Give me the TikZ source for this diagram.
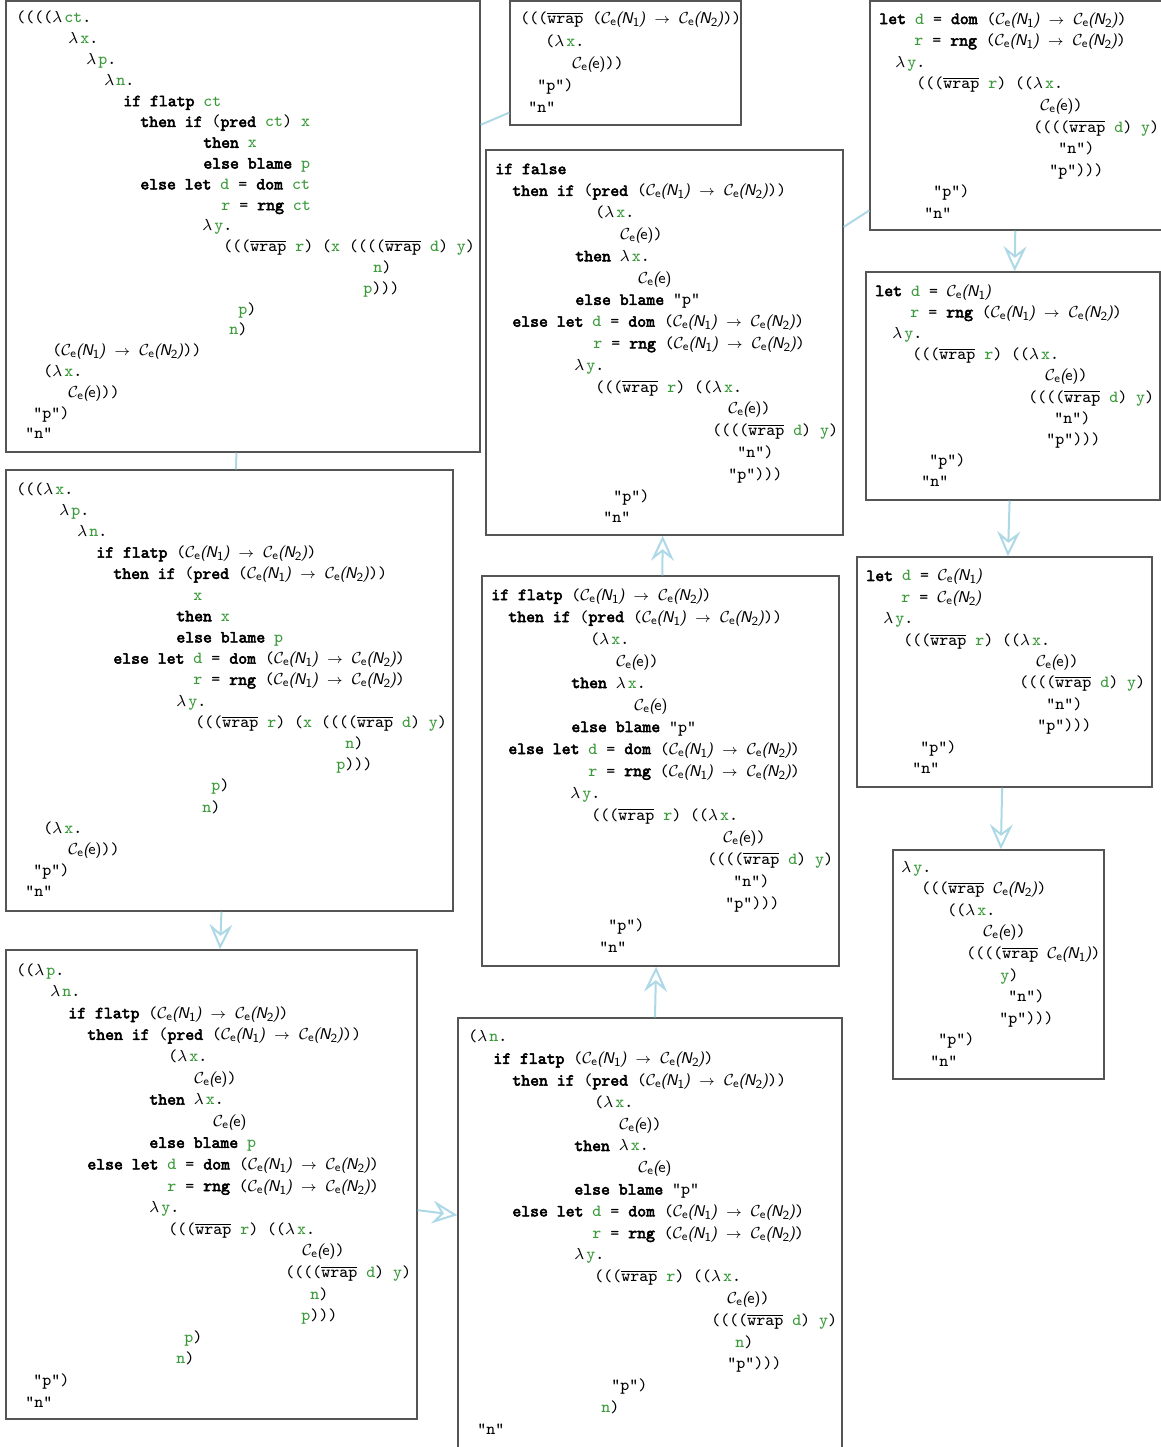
\documentclass[tikz,border=0pt]{standalone}
\definecolor{edge}{HTML}{ADD8E6}
\definecolor{rim}{HTML}{555555}
\definecolor{var}{HTML}{3A9A3A}
\usepackage{tikz}
\usetikzlibrary{arrows.meta, fit}
\newlength\pxu
\setlength\pxu{0.5pt}
\font\kwfont="[lmmono10-regular.otf]:embolden=3.2" at 8.46pt
\newcommand\ind[1]{\hspace*{#1\pxu}\strut}
\newcommand\vr[1]{\textcolor{var}{#1}}
\newcommand\kw[1]{{\kwfont #1}}
\newcommand\lam[1]{\makebox[6pt][l]{$\lambda$}\vr{#1}}
\newcommand\wrap{$\overline{\hbox{wrap}}$}
\newcommand\ce[1]{$\mathcal{C}_{\mathsf{e}}$\kern-0.5pt{\fontsize{7.8pt}{9pt}\sffamily\itshape(\kern-0.6pt#1\kern-0.3pt)}}
\newcommand\cn[1]{\ce{N\raisebox{-1.5pt}{\fontsize{6.2pt}{7pt}\selectfont\upshape #1}}}
\newcommand\cee{\ce{\upshape e}}
\newcommand\arr{\cn{1} {\fontsize{6.8pt}{8pt}\selectfont$\to$} \cn{2}}
\tikzset{
  term/.style={draw=rim, line width=0.75pt, fill=white, inner sep=0pt},
  code/.style={font={\fontsize{8.46pt}{#1pt}\ttfamily\frenchspacing\lineskiplimit=-\maxdimen},
               align=left, inner sep=0pt, anchor=north west},
  flow/.style={-{Stealth[open, length=12.5pt, width=11.5pt, inset=4.5pt]}, line width=1pt, color=edge},
  link/.style={line width=1pt, color=edge},
}
\begin{document}
\begin{tikzpicture}[x=0.5pt, y=-0.5pt]
\useasboundingbox (0,0) rectangle (1161,1447);
\clip (0,0) rectangle (1161,1447);
% frames
\node[term, fit={(6,1) (480,452)}] (a) {};
\node[term, fit={(510,1) (741,125)}] (b) {};
\node[term, fit={(870,1) (1164,230)}] (c) {};
\node[term, fit={(486,150) (843,535)}] (d) {};
\node[term, fit={(6,470) (453,911)}] (e) {};
\node[term, fit={(866,272) (1160,500)}] (f) {};
\node[term, fit={(482,576) (839,966)}] (g) {};
\node[term, fit={(857,557) (1152,787)}] (h) {};
\node[term, fit={(893,850) (1104,1079)}] (i) {};
\node[term, fit={(6,950) (417,1419)}] (j) {};
\node[term, fit={(458,1018) (842,1460)}] (k) {};
% terms
\node[code=10.4] (a-code) at (6,8) {%
\ind{10}((((\lam{ct}.\\
\ind{62}\lam{x}.\\
\ind{80}\lam{p}.\\
\ind{98}\lam{n}.\\
\ind{117}\kw{if flatp} \vr{ct}\\
\ind{134}\kw{then if} (\kw{pred} \vr{ct}) \vr{x}\\
\ind{197}\kw{then} \vr{x}\\
\ind{197}\kw{else blame} \vr{p}\\
\ind{134}\kw{else let} \vr{d} = \kw{dom} \vr{ct}\\
\ind{215}\vr{r} = \kw{rng} \vr{ct}\\
\ind{196}\lam{y}.\\
\ind{217}(((\wrap{} \vr{r}) (\vr{x} ((((\wrap{} \vr{d}) \vr{y})\\
\ind{367}\vr{n})\\
\ind{357}\vr{p})))\\
\ind{232}\vr{p})\\
\ind{223}\vr{n})\\
\ind{46}(\arr))\\
\ind{37}(\lam{x}.\\
\ind{62}\cee))\\
\ind{27}"p")\\
\ind{19}"n"};
\node[code=11.1] (b-code) at (510,8) {%
\ind{10}(((\wrap{} (\arr))\\
\ind{35}(\lam{x}.\\
\ind{62}\cee))\\
\ind{27}"p")\\
\ind{18}"n"};
\node[code=10.8] (c-code) at (870,8.5) {%
\ind{9}\kw{let} \vr{d} = \kw{dom} (\arr)\\
\ind{44}\vr{r} = \kw{rng} (\arr)\\
\ind{25}\lam{y}.\\
\ind{46}(((\wrap{} \vr{r}) ((\lam{x}.\\
\ind{170}\cee)\\
\ind{163}((((\wrap{} \vr{d}) \vr{y})\\
\ind{188}"n")\\
\ind{179}"p")))\\
\ind{63}"p")\\
\ind{54}"n"};
\node[code=10.9] (d-code) at (486,158.4) {%
\ind{9}\kw{if false}\\
\ind{26}\kw{then if} (\kw{pred} (\arr))\\
\ind{109}(\lam{x}.\\
\ind{134}\cee)\\
\ind{89}\kw{then} \lam{x}.\\
\ind{152}\cee\\
\ind{89}\kw{else blame} "p"\\
\ind{26}\kw{else let} \vr{d} = \kw{dom} (\arr)\\
\ind{107}\vr{r} = \kw{rng} (\arr)\\
\ind{88}\lam{y}.\\
\ind{109}(((\wrap{} \vr{r}) ((\lam{x}.\\
\ind{242}\cee)\\
\ind{226}((((\wrap{} \vr{d}) \vr{y})\\
\ind{251}"n")\\
\ind{242}"p")))\\
\ind{127}"p")\\
\ind{117}"n"};
\node[code=10.6] (e-code) at (6,478.8) {%
\ind{10}(((\lam{x}.\\
\ind{53}\lam{p}.\\
\ind{71}\lam{n}.\\
\ind{90}\kw{if flatp} (\arr)\\
\ind{107}\kw{then if} (\kw{pred} (\arr))\\
\ind{187}\vr{x}\\
\ind{170}\kw{then} \vr{x}\\
\ind{170}\kw{else blame} \vr{p}\\
\ind{107}\kw{else let} \vr{d} = \kw{dom} (\arr)\\
\ind{187}\vr{r} = \kw{rng} (\arr)\\
\ind{170}\lam{y}.\\
\ind{189}(((\wrap{} \vr{r}) (\vr{x} ((((\wrap{} \vr{d}) \vr{y})\\
\ind{339}\vr{n})\\
\ind{330}\vr{p})))\\
\ind{205}\vr{p})\\
\ind{196}\vr{n})\\
\ind{37}(\lam{x}.\\
\ind{62}\cee))\\
\ind{27}"p")\\
\ind{19}"n"};
\node[code=10.6] (f-code) at (866,280.8) {%
\ind{9}\kw{let} \vr{d} = \cn{1}\\
\ind{44}\vr{r} = \kw{rng} (\arr)\\
\ind{26}\lam{y}.\\
\ind{46}(((\wrap{} \vr{r}) ((\lam{x}.\\
\ind{179}\cee)\\
\ind{162}((((\wrap{} \vr{d}) \vr{y})\\
\ind{188}"n")\\
\ind{180}"p")))\\
\ind{63}"p")\\
\ind{55}"n"};
\node[code=11] (g-code) at (482,584.2) {%
\ind{9}\kw{if flatp} (\arr)\\
\ind{26}\kw{then if} (\kw{pred} (\arr))\\
\ind{108}(\lam{x}.\\
\ind{134}\cee)\\
\ind{89}\kw{then} \lam{x}.\\
\ind{152}\cee\\
\ind{89}\kw{else blame} "p"\\
\ind{26}\kw{else let} \vr{d} = \kw{dom} (\arr)\\
\ind{106}\vr{r} = \kw{rng} (\arr)\\
\ind{88}\lam{y}.\\
\ind{109}(((\wrap{} \vr{r}) ((\lam{x}.\\
\ind{241}\cee)\\
\ind{225}((((\wrap{} \vr{d}) \vr{y})\\
\ind{251}"n")\\
\ind{243}"p")))\\
\ind{126}"p")\\
\ind{117}"n"};
\node[code=10.7] (h-code) at (857,565.6) {%
\ind{9}\kw{let} \vr{d} = \cn{1}\\
\ind{44}\vr{r} = \cn{2}\\
\ind{26}\lam{y}.\\
\ind{46}(((\wrap{} \vr{r}) ((\lam{x}.\\
\ind{179}\cee)\\
\ind{162}((((\wrap{} \vr{d}) \vr{y})\\
\ind{189}"n")\\
\ind{180}"p")))\\
\ind{63}"p")\\
\ind{55}"n"};
\node[code=10.8] (i-code) at (893,856.5) {%
\ind{8}\lam{y}.\\
\ind{28}(((\wrap{} \cn{2})\\
\ind{54}((\lam{x}.\\
\ind{90}\cee)\\
\ind{73}((((\wrap{} \cn{1})\\
\ind{107}\vr{y})\\
\ind{115}"n")\\
\ind{106}"p")))\\
\ind{45}"p")\\
\ind{37}"n"};
\node[code=10.8] (j-code) at (6,959.5) {%
\ind{10}((\lam{p}.\\
\ind{44}\lam{n}.\\
\ind{62}\kw{if flatp} (\arr)\\
\ind{81}\kw{then if} (\kw{pred} (\arr))\\
\ind{162}(\lam{x}.\\
\ind{188}\cee)\\
\ind{143}\kw{then} \lam{x}.\\
\ind{207}\cee\\
\ind{143}\kw{else blame} \vr{p}\\
\ind{81}\kw{else let} \vr{d} = \kw{dom} (\arr)\\
\ind{161}\vr{r} = \kw{rng} (\arr)\\
\ind{143}\lam{y}.\\
\ind{162}(((\wrap{} \vr{r}) ((\lam{x}.\\
\ind{296}\cee)\\
\ind{279}((((\wrap{} \vr{d}) \vr{y})\\
\ind{304}\vr{n})\\
\ind{295}\vr{p})))\\
\ind{178}\vr{p})\\
\ind{170}\vr{n})\\
\ind{27}"p")\\
\ind{19}"n"};
\node[code=10.9] (k-code) at (458,1026.3) {%
\ind{10}(\lam{n}.\\
\ind{35}\kw{if flatp} (\arr)\\
\ind{54}\kw{then if} (\kw{pred} (\arr))\\
\ind{136}(\lam{x}.\\
\ind{161}\cee)\\
\ind{116}\kw{then} \lam{x}.\\
\ind{180}\cee\\
\ind{116}\kw{else blame} "p"\\
\ind{54}\kw{else let} \vr{d} = \kw{dom} (\arr)\\
\ind{134}\vr{r} = \kw{rng} (\arr)\\
\ind{116}\lam{y}.\\
\ind{136}(((\wrap{} \vr{r}) ((\lam{x}.\\
\ind{269}\cee)\\
\ind{253}((((\wrap{} \vr{d}) \vr{y})\\
\ind{277}\vr{n})\\
\ind{269}"p")))\\
\ind{153}"p")\\
\ind{143}\vr{n})\\
\ind{19}"n"};
% reductions
\draw[link] (a) -- (b);
\draw[link] (a) -- (e);
\draw[flow] (e) -- (j);
\draw[flow] (j) -- (k);
\draw[flow] (k) -- (g);
\draw[flow] (g) -- (d);
\draw[link] (d) -- (c);
\draw[flow] (c) -- (f);
\draw[flow] (f) -- (h);
\draw[flow] (h) -- (i);
\end{tikzpicture}
\end{document}
